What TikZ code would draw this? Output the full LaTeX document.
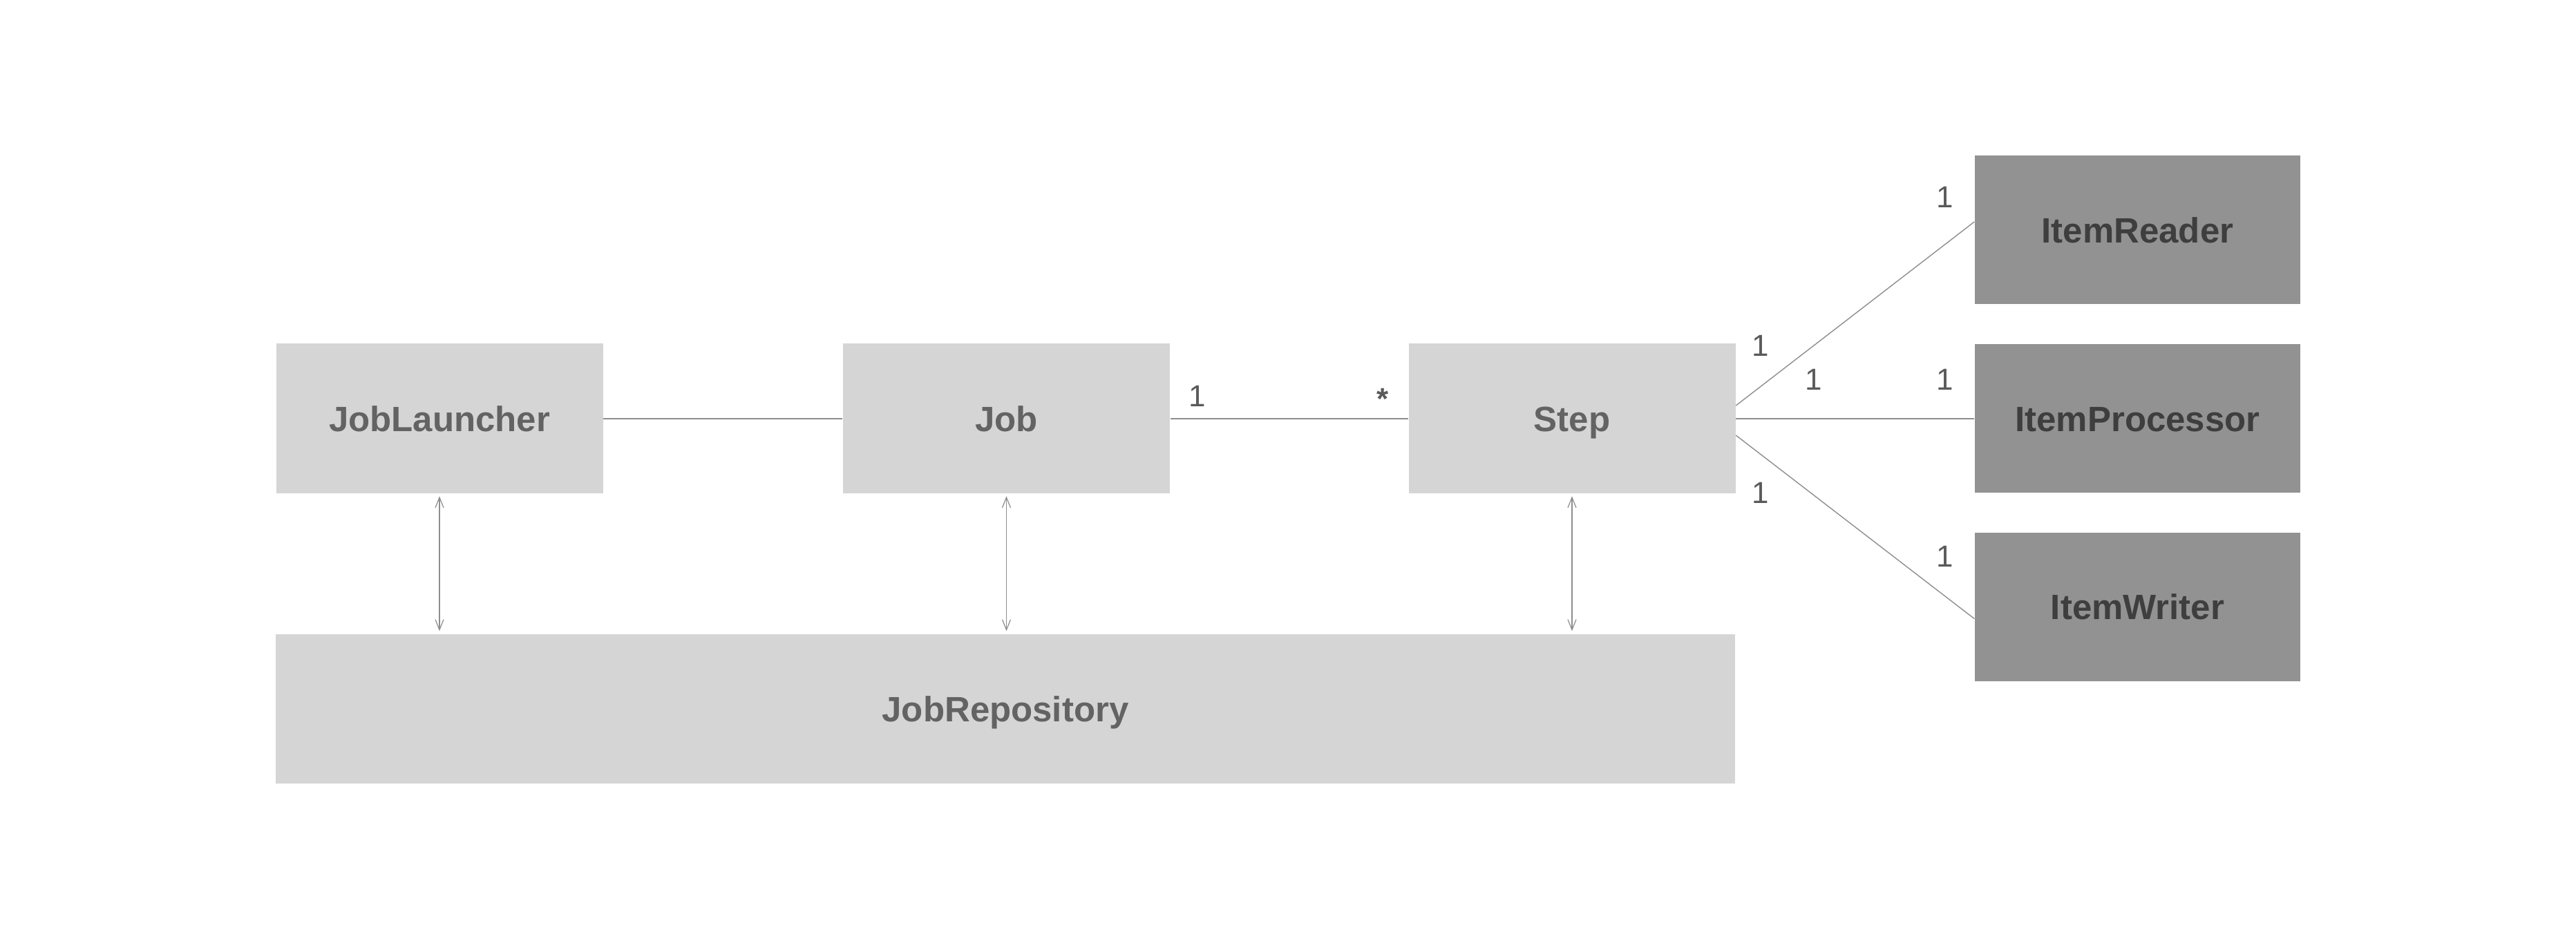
\documentclass[tikz,border=0pt]{standalone}
\usepackage{fontspec}
\setmainfont{Liberation Sans}
\usetikzlibrary{arrows.meta}
\definecolor{boxgray}{HTML}{D5D5D5}
\definecolor{itemgray}{HTML}{929292}
\definecolor{linegray}{HTML}{8E8E8E}
\definecolor{textgray}{HTML}{636363}
\definecolor{itemtext}{HTML}{3E3E3E}
\definecolor{multgray}{HTML}{5A5A5A}
\begin{document}
\begin{tikzpicture}[
    box/.style={fill=boxgray, text=textgray, minimum width=4.73cm, minimum height=2.17cm,
        inner sep=0pt, text height=10.5pt, text depth=0pt,
        font=\fontsize{14.5}{17}\selectfont\bfseries},
    itembox/.style={box, fill=itemgray, text=itemtext, minimum width=4.71cm, minimum height=2.15cm},
    link/.style={draw=linegray, line width=0.5pt},
    diag/.style={draw=linegray, line width=0.4pt},
    rw/.style={draw=linegray, line width=0.35pt, {Straight Barb[length=1.5mm, width=1.2mm]}-{Straight Barb[length=1.5mm, width=1.2mm]},
        shorten <=0.03cm, shorten >=0.04cm},
    mult/.style={text=multgray, inner sep=0pt, anchor=base, font=\fontsize{12.5}{15}\selectfont}
]
    \useasboundingbox (0, 0) rectangle (37.28, -13.46);

    % main chain
    \node (jl) at (6.36, -6.06) [box] {JobLauncher};
    \node (job) at (14.565, -6.06) [box] {Job};
    \node (st) at (22.75, -6.06) [box] {Step};
    \node (repo) at (14.55, -10.26) [box, minimum width=21.12cm, minimum height=2.16cm] {JobRepository};

    % step parts
    \node (reader) at (30.935, -3.33) [itembox] {ItemReader};
    \node (proc) at (30.935, -6.06) [itembox] {ItemProcessor};
    \node (writer) at (30.935, -8.785) [itembox] {ItemWriter};

    \draw[link] (jl) -- (job);
    \draw[link] (job) -- (st);
    \draw[link] (st) -- (proc);
    \draw[diag] ([yshift=0.19cm]st.east) -- ([yshift=0.12cm]reader.west);
    \draw[diag] ([yshift=-0.24cm]st.east) -- ([yshift=-0.17cm]writer.west);

    \draw[rw] (jl.south) -- (jl.south |- repo.north);
    \draw[rw] (job.south) -- (job.south |- repo.north);
    \draw[rw] (st.south) -- (st.south |- repo.north);

    % multiplicities
    \node (mjob) at (17.33, -5.883) [mult] {1};
    \node (mstep) at (20.01, -5.93) [mult, font=\fontsize{12.5}{15}\selectfont\bfseries] {*};
    \node (mr1) at (25.48, -5.16) [mult] {1};
    \node (mp1) at (26.25, -5.65) [mult] {1};
    \node (mw1) at (25.48, -7.29) [mult] {1};
    \node (mr2) at (28.15, -3.01) [mult] {1};
    \node (mp2) at (28.15, -5.65) [mult] {1};
    \node (mw2) at (28.15, -8.21) [mult] {1};
\end{tikzpicture}
\end{document}
